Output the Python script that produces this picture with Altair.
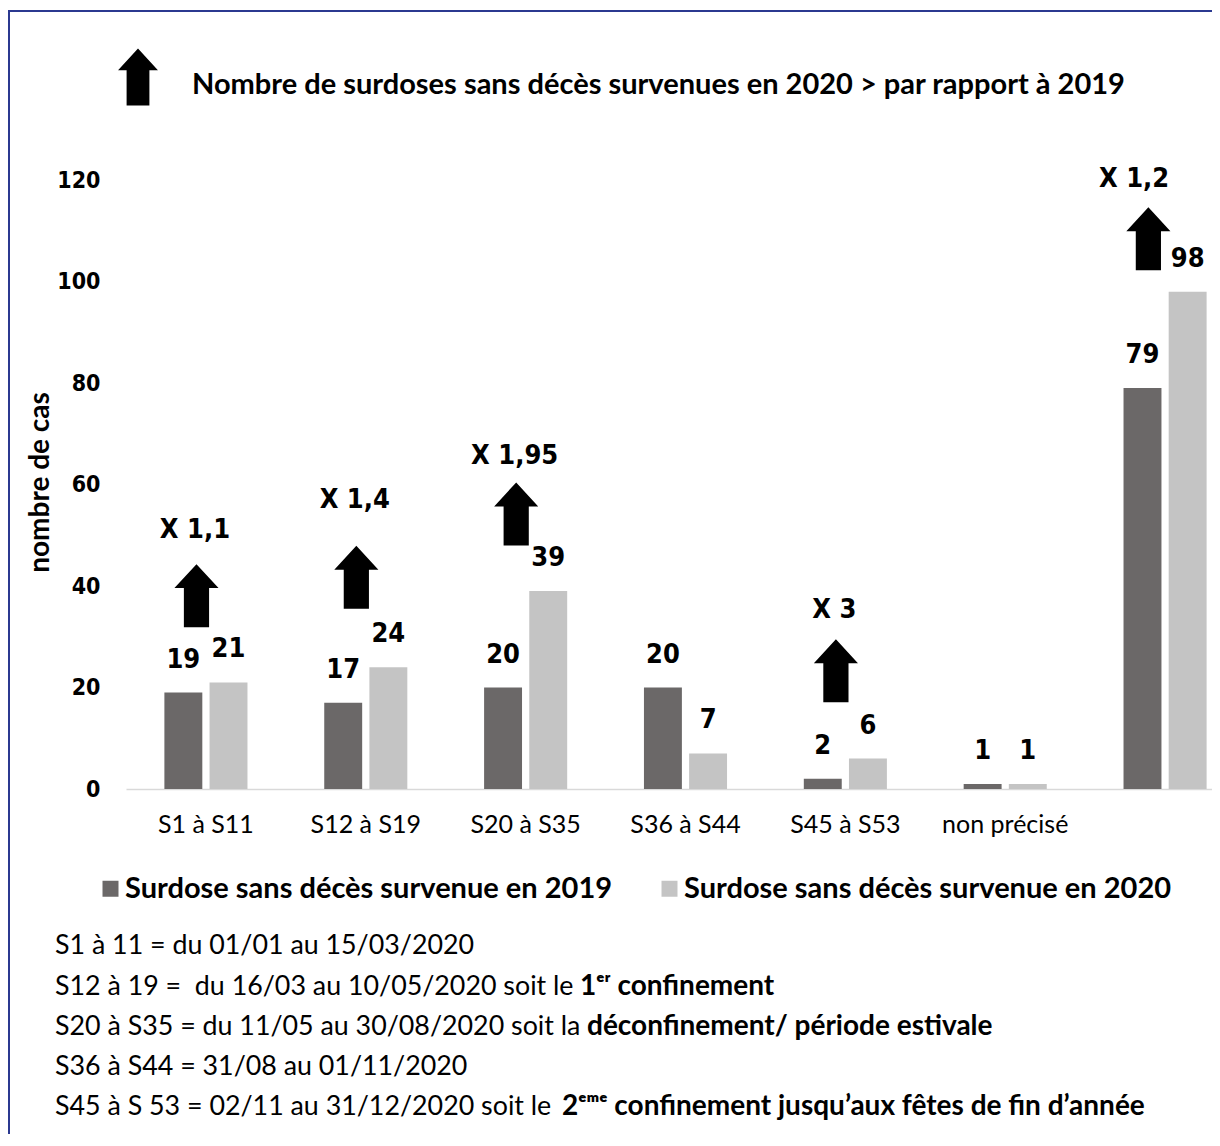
import altair as alt
import pandas as pd

# ---------------- data ----------------
categories = ["S1 à S11", "S12 à S19", "S20 à S35", "S36 à S44", "S45 à S53", "non précisé", "Total"]
series = ["Surdose sans décès survenue en 2019", "Surdose sans décès survenue en 2020"]
values_2019 = [19, 17, 20, 20, 2, 1, 79]
values_2020 = [21, 24, 39, 7, 6, 1, 98]
colors = ["#6b6868", "#c4c4c4"]

arrow_categories = ["S1 à S11", "S12 à S19", "S20 à S35", "S45 à S53", "Total"]
multipliers = ["X 1,1", "X 1,4", "X 1,95", "X 3", "X 1,2"]
arrow_levels = [38.1, 41.7, 54.2, 23.3, 108.4]
multiplier_levels = [51.0, 56.9, 65.6, 35.3, 120.2]

y_ticks = [0, 20, 40, 60, 80, 100, 120]
title_text = ["Nombre de surdoses sans décès survenues en 2020 > par rapport à 2019"]
y_title = "nombre de cas"

notes_regular = [
    "S1 à 11 = du 01/01 au 15/03/2020",
    "S12 à 19 =\u00a0 du 16/03 au 10/05/2020 soit le",
    "S20 à S35 = du 11/05 au 30/08/2020 soit la",
    "S36 à S44 = 31/08 au 01/11/2020",
    "S45 à S 53 = 02/11 au 31/12/2020 soit le",
]
notes_bold = [
    "",
    "1ᵉʳ confinement",
    "déconfinement/ période estivale",
    "",
    "2ᵉᵐᵉ confinement jusqu’aux fêtes de fin d’année",
]

# ---------------- tables ----------------
bars = pd.DataFrame({
    "cat": categories * 2,
    "series": [series[0]] * len(categories) + [series[1]] * len(categories),
    "value": values_2019 + values_2020,
})
arrows = pd.DataFrame({
    "cat": arrow_categories,
    "mult": multipliers,
    "arrow_y": arrow_levels,
    "mult_y": multiplier_levels,
})

def arrow_path(shift):
    xs = [-0.4, -0.4, -0.7, 0.0, 0.7, 0.4, 0.4]
    ys = [1, -0.24, -0.24, -1, -0.24, -0.24, 1]
    pts = [f"{x + shift:.3f} {y}" for x, y in zip(xs, ys)]
    return "M " + " L ".join(pts) + " Z"

NUMFONT = "DejaVu Sans Condensed, Liberation Sans Narrow, DejaVu Sans"
TXTFONT = "Lato, DejaVu Sans"

OX, OY = 126, 180  # page position of plot origin

x_enc = alt.X(
    "cat:N",
    sort=categories,
    scale=alt.Scale(domain=categories, range=[0, 1119], paddingInner=0, paddingOuter=0),
    axis=alt.Axis(
        title=None,
        labelExpr="datum.value == 'Total' ? '' : datum.value",
        labelAngle=0,
        ticks=False,
        domainColor="#d9d9d9",
        domainWidth=1.5,
        labelFont=TXTFONT,
        labelFontSize=25,
        labelColor="black",
        labelPadding=23,
        labelLimit=400,
    ),
)
xoff_enc = alt.XOffset(
    "series:N", sort=series,
    scale=alt.Scale(domain=series, paddingInner=0.16, paddingOuter=0.85),
)
y_enc = alt.Y(
    "value:Q",
    scale=alt.Scale(domain=[0, 120], nice=False),
    axis=alt.Axis(
        values=y_ticks,
        grid=False,
        domain=False,
        ticks=False,
        labelFont=NUMFONT,
        labelFontWeight="bold",
        labelFontSize=23,
        labelColor="black",
        labelPadding=26,
        title=y_title,
        titleFont=TXTFONT,
        titleFontSize=28,
        titleFontWeight="bold",
        titleColor="black",
        titleX=40 - OX,
        titleY=482 - OY,
        titleAngle=270,
        titleAlign="center",
        titleBaseline="middle",
    ),
)

base = alt.Chart(bars)

bar_layer = base.mark_bar().encode(
    x=x_enc,
    xOffset=xoff_enc,
    y=y_enc,
    color=alt.Color(
        "series:N",
        scale=alt.Scale(domain=series, range=colors),
        legend=alt.Legend(
            title=None,
            orient="none",
            legendX=96 - OX,
            legendY=874 - OY,
            direction="horizontal",
            columns=2,
            symbolType="square",
            symbolSize=256,
            symbolStrokeWidth=0,
            labelFont=TXTFONT,
            labelFontSize=29,
            labelFontWeight="bold",
            labelColor="black",
            labelLimit=1000,
            labelOffset=0,
            columnPadding=42,
        ),
    ),
)

value_layer = base.mark_text(
    dy=-33, baseline="middle", font=NUMFONT, fontSize=27, fontWeight="bold", color="black"
).encode(x=x_enc, xOffset=xoff_enc, y=y_enc, text=alt.Text("value:Q"))

arrow_main = alt.Chart(arrows).transform_filter(
    alt.datum.cat != "Total"
).mark_point(
    shape=arrow_path(-0.3), size=3969, filled=True, color="black", opacity=1, strokeWidth=0
).encode(x=x_enc, y=alt.Y("arrow_y:Q"))

arrow_total = alt.Chart(arrows).transform_filter(
    alt.datum.cat == "Total"
).mark_point(
    shape=arrow_path(-0.53), size=3969, filled=True, color="black", opacity=1, strokeWidth=0
).encode(x=x_enc, y=alt.Y("arrow_y:Q"))

mult_main = alt.Chart(arrows).transform_filter(
    alt.datum.cat != "Total"
).mark_text(
    dx=-11, baseline="middle", font=NUMFONT, fontSize=27, fontWeight="bold", color="black"
).encode(x=x_enc, y=alt.Y("mult_y:Q"), text="mult:N")

mult_total = alt.Chart(arrows).transform_filter(
    alt.datum.cat == "Total"
).mark_text(
    dx=-31, baseline="middle", font=NUMFONT, fontSize=27, fontWeight="bold", color="black"
).encode(x=x_enc, y=alt.Y("mult_y:Q"), text="mult:N")

title_df = pd.DataFrame({"t": title_text})
title_layer = alt.Chart(title_df).mark_text(
    align="left", baseline="middle", font=TXTFONT, fontSize=29, fontWeight="bold", color="black"
).encode(x=alt.value(192 - OX), y=alt.value(85 - OY), text="t:N")

title_arrow = alt.Chart(title_df).mark_point(
    shape=arrow_path(0), size=3249, filled=True, color="black", opacity=1, strokeWidth=0
).encode(x=alt.value(138 - OX), y=alt.value(77 - OY))

note_layers = []
line_y = [946, 987, 1027, 1067, 1107]
bold_x = [None, 580, 587, None, 562]
for i, (reg, bold) in enumerate(zip(notes_regular, notes_bold)):
    d = pd.DataFrame({"t": [reg]})
    note_layers.append(
        alt.Chart(d).mark_text(
            align="left", baseline="middle", font=TXTFONT, fontSize=26.8, color="black"
        ).encode(x=alt.value(55 - OX), y=alt.value(line_y[i] - OY), text="t:N")
    )
    if bold:
        db = pd.DataFrame({"t": [bold]})
        note_layers.append(
            alt.Chart(db).mark_text(
                align="left", baseline="middle", font=TXTFONT, fontSize=28,
                fontWeight="bold", color="black"
            ).encode(x=alt.value(bold_x[i] - OX), y=alt.value(line_y[i] - OY), text="t:N")
        )

# outer frame: thin filled bands on the left and top edges, kept inside the drawing
frame_df = pd.DataFrame({"k": [0]})
frame_left = alt.Chart(frame_df).mark_rect(color="#2b3990", strokeWidth=0).encode(
    x=alt.value(8 - OX), x2=alt.value(10 - OX),
    y=alt.value(10 - OY), y2=alt.value(1134 - OY),
)
frame_top = alt.Chart(frame_df).mark_rect(color="#2b3990", strokeWidth=0).encode(
    x=alt.value(8 - OX), x2=alt.value(1212 - OX),
    y=alt.value(10 - OY), y2=alt.value(12 - OY),
)

chart = alt.layer(
    frame_left, frame_top,
    bar_layer, value_layer, arrow_main, arrow_total, mult_main, mult_total,
    title_arrow, title_layer,
    *note_layers,
).properties(
    width=1086,
    height=609,
    autosize=alt.AutoSizeParams(type="none"),
    padding={"left": 118, "top": 172, "right": 0, "bottom": 345},
    background="white",
).configure_view(stroke=None)

chart.save("out.html", embed_options={"renderer": "svg", "actions": False})
